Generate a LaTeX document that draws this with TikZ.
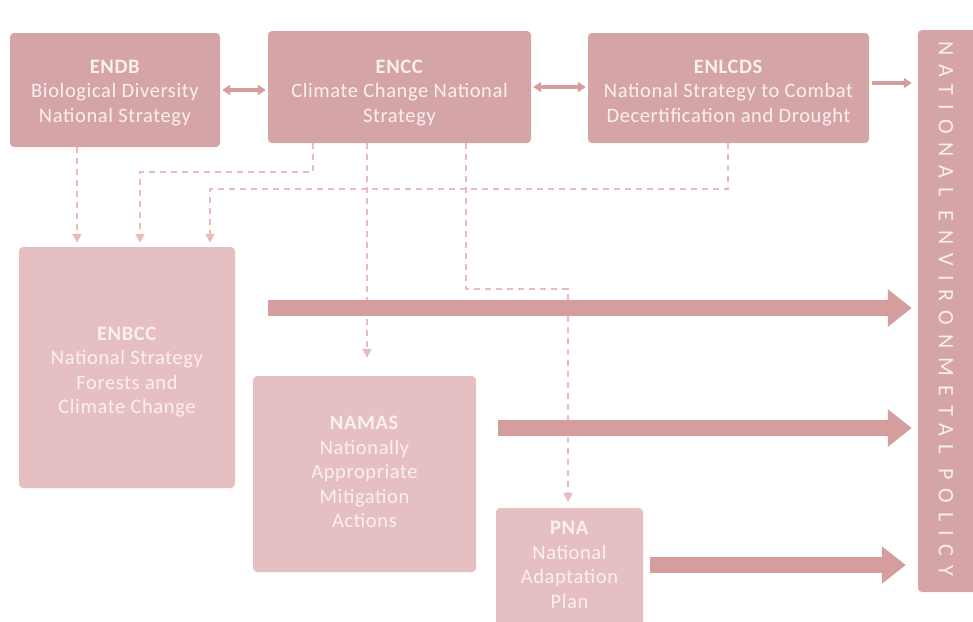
\documentclass[tikz,border=0pt]{standalone}
\usepackage{fontspec}
\setmainfont{Carlito}
\usetikzlibrary{arrows.meta}
\definecolor{boxdark}{HTML}{D4A4A6}
\definecolor{boxlight}{HTML}{E5BFC1}
\definecolor{arrowc}{HTML}{D69D9F}
\definecolor{dashc}{HTML}{E8BBBD}
\definecolor{txt}{HTML}{FBF0F0}
\tikzset{
  boxd/.style={fill=boxdark, rounded corners=4pt, inner sep=0pt},
  boxl/.style={fill=boxlight, rounded corners=4pt, inner sep=0pt},
  lbl/.style={text=txt, align=center, font=\fontsize{20.5}{24.5}\selectfont\addfontfeature{LetterSpace=3}},
  dsh/.style={draw=dashc, line width=1.8pt, dash pattern=on 6pt off 5pt, -{Triangle[length=9pt,width=9pt]}},
  big/.style={draw=arrowc, line width=16pt, -{Triangle[length=24pt,width=36pt]}},
  dbl/.style={draw=arrowc, line width=4pt, {Triangle[length=8pt,width=10pt]}-{Triangle[length=8pt,width=10pt]}},
  sgl/.style={draw=arrowc, line width=4pt, -{Triangle[length=8pt,width=10pt]}},
}
\begin{document}
\begin{tikzpicture}[x=1pt,y=-1pt]
\useasboundingbox (0,0) rectangle (973,621);
% boxes
\node[boxd, minimum width=210pt, minimum height=114pt] (endb) at (115,90) {};
\node[lbl] (endbt) at (115,93) {\textbf{ENDB}\\Biological Diversity\\National Strategy};
\node[boxd, minimum width=263pt, minimum height=112pt] (encc) at (399.5,87) {};
\node[lbl] (ecct) at (399.5,93) {\textbf{ENCC}\\Climate Change National\\Strategy};
\node[boxd, minimum width=281pt, minimum height=110pt] (enlcds) at (728.5,88) {};
\node[lbl] (enlcdst) at (728.5,93) {\textbf{ENLCDS}\\National Strategy to Combat\\Decertification and Drought};
\node[boxl, minimum width=216pt, minimum height=241pt] (enbcc) at (127,367.5) {};
\node[lbl] (enbcct) at (127,372) {\textbf{ENBCC}\\National Strategy\\Forests and\\Climate Change};
\node[boxl, minimum width=223pt, minimum height=196pt] (namas) at (364.5,474) {};
\node[lbl] (namast) at (364.5,472) {\textbf{NAMAS}\\Nationally\\Appropriate\\Mitigation\\Actions};
\node[boxl, minimum width=147pt, minimum height=120pt] (pna) at (569.5,568) {};
\node[lbl] (pnat) at (569.5,565) {\textbf{PNA}\\National\\Adaptation\\Plan};
\node[boxd, minimum width=70pt, minimum height=562pt] (nep) at (953,311) {};
\node[text=txt, rotate=-90, font=\fontsize{22}{26}\selectfont\addfontfeature{LetterSpace=41}] (nept) at (946,309) {NATIONAL ENVIRONMETAL POLICY};
% coordinates
\coordinate (c1) at (77,0);
\coordinate (c2) at (313,0);
\coordinate (c3) at (140,0);
\coordinate (c4) at (728,0);
\coordinate (c5) at (210,0);
\coordinate (c6) at (367,0);
\coordinate (c7) at (466,0);
\coordinate (c8) at (568,0);
\coordinate (h1) at (0,172);
\coordinate (h2) at (0,189);
\coordinate (h3) at (0,289);
\coordinate (a1) at (268,308);
\coordinate (a2) at (498,428);
\coordinate (a3) at (650,565);
\coordinate (a4) at (872,83);
% double arrows
\draw[dbl] ([xshift=2pt]endb.east) -- ([xshift=-2pt]endb.east -| encc.west);
\draw[dbl] ([xshift=2pt]encc.east) -- ([xshift=-2pt]encc.east -| enlcds.west);
\draw[sgl] (a4) -- ([xshift=-6pt]a4 -| nep.west);
% dashed
\draw[dsh, shorten >=4pt] (endb.south -| c1) -- (enbcc.north -| c1);
\draw[dsh, shorten >=4pt] (encc.south -| c2) -- (c2 |- h1) -- (c3 |- h1) -- (enbcc.north -| c3);
\draw[dsh, shorten >=4pt] (enlcds.south -| c4) -- (c4 |- h2) -- (c5 |- h2) -- (enbcc.north -| c5);
\draw[dsh, shorten >=18pt] (encc.south -| c6) -- (namas.north -| c6);
\draw[dsh, shorten >=6pt] (encc.south -| c7) -- (c7 |- h3) -- (c8 |- h3) -- (pna.north -| c8);
% big arrows
\draw[big] (a1) -- ([xshift=-6pt]a1 -| nep.west);
\draw[big] (a2) -- ([xshift=-6pt]a2 -| nep.west);
\draw[big] (a3) -- ([xshift=-12pt]a3 -| nep.west);
\end{tikzpicture}
\end{document}
